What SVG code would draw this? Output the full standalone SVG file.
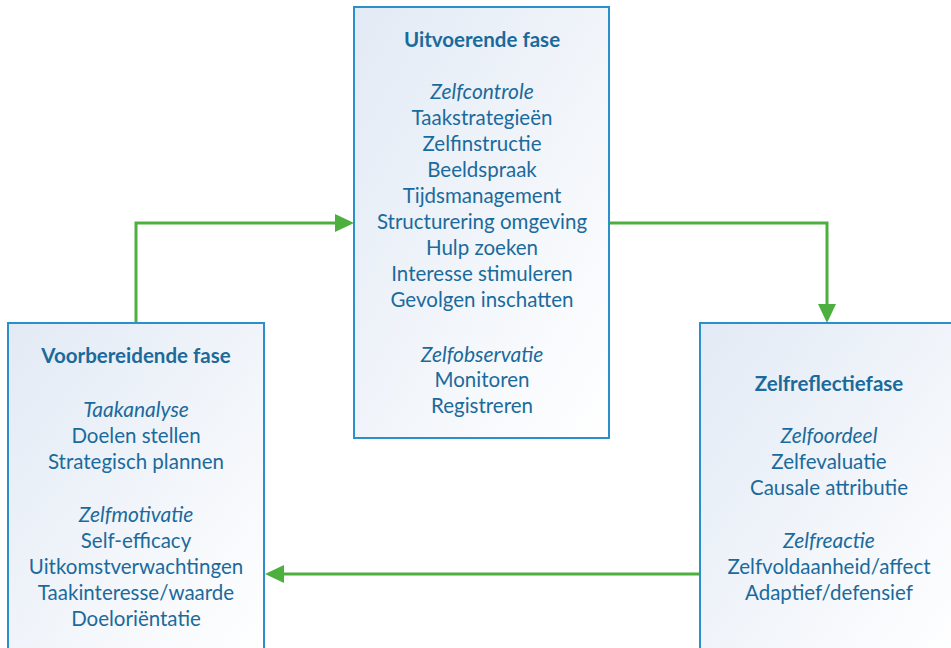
<svg xmlns="http://www.w3.org/2000/svg" width="951" height="648" viewBox="0 0 951 648">
  <style>
    .box { stroke: #2A8FCB; stroke-width: 2; fill: url(#bg); }
    text { font-family: Lato, "Liberation Sans", sans-serif; font-size: 20.5px; fill: #1B6A9C; text-anchor: middle; }
    .t { font-weight: bold; }
    .i { font-style: italic; font-size: 21px; }
    .conn { stroke: #4CAF3E; stroke-width: 3; fill: none; marker-end: url(#arr); }
  </style>
  <defs>
    <linearGradient id="bg" x1="0" y1="0" x2="1" y2="1">
      <stop offset="0" stop-color="#E2EAF5"/>
      <stop offset="1" stop-color="#FFFFFF"/>
    </linearGradient>
    <marker id="arr" markerUnits="userSpaceOnUse" markerWidth="19" markerHeight="20" refX="0" refY="10" orient="auto" viewBox="0 0 19 20">
      <path d="M0,1 L19,10 L0,19 z" fill="#4CAF3E"/>
    </marker>
  </defs>

  <g id="connectors">
    <path class="conn" d="M136,323 V223 H335"/>
    <path class="conn" d="M609,223 H827 V304"/>
    <path class="conn" d="M700,574 H284"/>
  </g>

  <g id="uitvoerende">
    <rect class="box" x="354" y="7" width="255" height="431"/>
    <text class="t" x="482" y="47">Uitvoerende fase</text>
    <text class="i" x="482" y="98.5">Zelfcontrole</text>
    <text x="482" y="124.5">Taakstrategieën</text>
    <text x="482" y="150.5">Zelfinstructie</text>
    <text x="482" y="176.5">Beeldspraak</text>
    <text x="482" y="202.5">Tijdsmanagement</text>
    <text x="482" y="229">Structurering omgeving</text>
    <text x="482" y="255">Hulp zoeken</text>
    <text x="482" y="281">Interesse stimuleren</text>
    <text x="482" y="307">Gevolgen inschatten</text>
    <text class="i" x="482" y="361.5">Zelfobservatie</text>
    <text x="482" y="387">Monitoren</text>
    <text x="482" y="413">Registreren</text>
  </g>

  <g id="voorbereidende">
    <rect class="box" x="8" y="323" width="256" height="340"/>
    <text class="t" x="136" y="363">Voorbereidende fase</text>
    <text class="i" x="136" y="416.5">Taakanalyse</text>
    <text x="136" y="442.5">Doelen stellen</text>
    <text x="136" y="468.5">Strategisch plannen</text>
    <text class="i" x="136" y="521.5">Zelfmotivatie</text>
    <text x="136" y="547.5">Self-efficacy</text>
    <text x="136" y="573.5">Uitkomstverwachtingen</text>
    <text x="136" y="599.5">Taakinteresse/waarde</text>
    <text x="136" y="625.5">Doeloriëntatie</text>
  </g>

  <g id="zelfreflectie">
    <rect class="box" x="700" y="323" width="256" height="340"/>
    <text class="t" x="829" y="390.5">Zelfreflectiefase</text>
    <text class="i" x="829" y="442.5">Zelfoordeel</text>
    <text x="829" y="468.5">Zelfevaluatie</text>
    <text x="829" y="494.5">Causale attributie</text>
    <text class="i" x="829" y="547.5">Zelfreactie</text>
    <text x="829" y="573.5">Zelfvoldaanheid/affect</text>
    <text x="829" y="599.5">Adaptief/defensief</text>
  </g>
</svg>
